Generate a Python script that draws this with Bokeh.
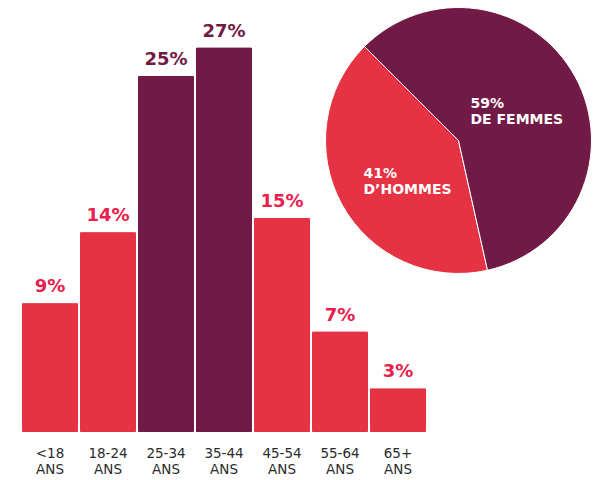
import math
from bokeh.plotting import figure
from bokeh.models import Range1d, ColumnDataSource
from bokeh.core.properties import value
from bokeh.embed import file_html
from bokeh.resources import INLINE

# ---- data ----
age_groups = ["<18", "18-24", "25-34", "35-44", "45-54", "55-64", "65+"]
age_line2 = ["ANS"] * 7
age_share = [9, 14, 25, 27, 15, 7, 3]
highlight = [False, False, True, True, False, False, False]

genders = ["D\u2019HOMMES", "DE FEMMES"]
gender_share = [41, 59]
pie_start_deg = 135

RED = "#E63344"
DARK = "#721A46"
RED_TXT = "#E8204D"
FONT = "DejaVu Sans"

W, H = 598, 480
PX_X = 58.0   # pixels per bar slot
PX_Y = 14.2   # pixels per percent
x0 = -49.5 / PX_X
y0 = -49.0 / PX_Y
p = figure(width=W, height=H, output_backend="svg", toolbar_location=None,
           x_range=Range1d(x0, x0 + W / PX_X),
           y_range=Range1d(y0, y0 + H / PX_Y),
           min_border=0, background_fill_color="white", border_fill_color="white")
p.axis.visible = False
p.grid.visible = False
p.outline_line_color = None

xs = list(range(len(age_groups)))
colors = [DARK if h else RED for h in highlight]
lab_colors = [DARK if h else RED_TXT for h in highlight]
labels = [f"{v}%" for v in age_share]
src = ColumnDataSource(dict(x=xs, top=age_share, color=colors, lab=labels,
                            lab_color=lab_colors, l1=age_groups, l2=age_line2,
                            zero=[0] * len(xs)))

p.vbar(x="x", top="top", bottom=0, width=55 / PX_X, color="color", source=src)
p.text(x="x", y="top", text="lab", text_color="lab_color", source=src,
       text_align="center", text_baseline="alphabetic", y_offset=-18,
       text_font=value(FONT), text_font_style="bold", text_font_size="18px")
p.text(x="x", y="zero", text="l1", source=src, text_color="#2b2b2b",
       text_align="center", text_baseline="alphabetic", y_offset=21,
       text_font=value(FONT), text_font_size="13.5px")
p.text(x="x", y="zero", text="l2", source=src, text_color="#2b2b2b",
       text_align="center", text_baseline="alphabetic", y_offset=37,
       text_font=value(FONT), text_font_size="13.5px")

# ---- pie ----
cx, cy = x0 + 458 / PX_X, y0 + (H - 140) / PX_Y
total = sum(gender_share)
starts, ends = [], []
a = pie_start_deg
for s in gender_share:
    starts.append(math.radians(a))
    a += s / total * 360
    ends.append(math.radians(a))
psrc = ColumnDataSource(dict(x=[cx, cx], y=[cy, cy], start=starts, end=ends,
                             color=[RED, DARK]))
p.wedge(x="x", y="y", radius=133, radius_units="screen", start_angle="start",
        end_angle="end", color="color", line_color="white", line_width=1,
        source=psrc)

pie_lab_offsets = [(-95, 32), (12, -38)]
for g, s, (dx, dy) in zip(genders, gender_share, pie_lab_offsets):
    p.text(x=[cx], y=[cy], text=[f"{s}%"], x_offset=dx, y_offset=dy,
           text_color="white", text_align="left", text_baseline="alphabetic",
           text_font=value(FONT), text_font_style="bold", text_font_size="14px")
    p.text(x=[cx], y=[cy], text=[g], x_offset=dx, y_offset=dy + 16,
           text_color="white", text_align="left", text_baseline="alphabetic",
           text_font=value(FONT), text_font_style="bold", text_font_size="14px")

open("out.html", "w").write(file_html(p, INLINE))
